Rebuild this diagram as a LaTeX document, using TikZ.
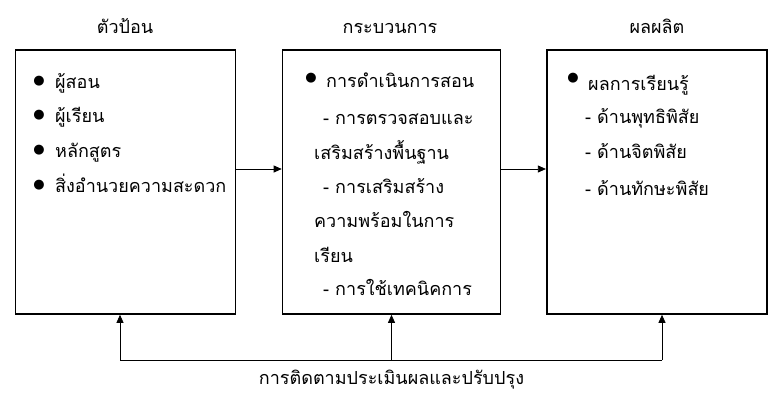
\documentclass[tikz,border=0pt]{standalone}
\usepackage{fontspec}
\newfontfamily\thaifont[Script=Thai]{Loma}
\newfontfamily\symfont{DejaVu Sans}
\usetikzlibrary{arrows.meta}

\begin{document}
\begin{tikzpicture}[
  x=1pt, y=-1pt,
  box/.style={rectangle, draw, line width=1.6pt, minimum height=264pt,
    inner sep=0pt},
  title/.style={font=\thaifont\fontsize{18}{18}\selectfont, anchor=base,
    inner sep=0pt},
  item/.style={font=\thaifont\fontsize{18}{18}\selectfont, anchor=base west,
    inner sep=0pt},
  dot/.style={font=\symfont\fontsize{13}{13}\selectfont, inner sep=0pt},
  flow/.style={-{Triangle[length=8pt,width=7pt]}, line width=0.8pt},
]

% Page frame
\useasboundingbox (0,0) rectangle (782,410);

% Boxes
\node[box, minimum width=220pt] (inbox) at (125.5,182) {};
\node[box, minimum width=218pt] (procbox) at (391.5,182) {};
\node[box, minimum width=220pt] (outbox) at (656.7,182) {};

% Box titles
\node[title] (intitle) at (125,33) {ตัวป้อน};
\node[title] (proctitle) at (390,33) {กระบวนการ};
\node[title] (outtitle) at (657,33) {ผลผลิต};

% Input items
\node[dot] (indot1) at (39,81) {●};
\node[item] (in1) at (55,88) {ผู้สอน};
\node[dot] (indot2) at (39,115) {●};
\node[item] (in2) at (55,122) {ผู้เรียน};
\node[dot] (indot3) at (39,150) {●};
\node[item] (in3) at (55,157) {หลักสูตร};
\node[dot] (indot4) at (39,185) {●};
\node[item] (in4) at (55,192) {สิ่งอำนวยความสะดวก};

% Process items
\node[dot] (prdot) at (311,78) {●};
\node[item] (pr1) at (326,87) {การดำเนินการสอน};
\node[item] (pr2) at (323,124) {- การตรวจสอบและ};
\node[item] (pr3) at (314,159) {เสริมสร้างพื้นฐาน};
\node[item] (pr4) at (323,193) {- การเสริมสร้าง};
\node[item] (pr5) at (314,227) {ความพร้อมในการ};
\node[item] (pr6) at (314,262) {เรียน};
\node[item] (pr7) at (323,295) {- การใช้เทคนิคการ};

% Output items
\node[dot] (outdot) at (573,78) {●};
\node[item] (out1) at (588,90) {ผลการเรียนรู้};
\node[item] (out2) at (585,123) {- ด้านพุทธิพิสัย};
\node[item] (out3) at (585,158) {- ด้านจิตพิสัย};
\node[item] (out4) at (585,195) {- ด้านทักษะพิสัย};

% Main flow
\draw[flow] ([yshift=13pt]inbox.east) -- ([yshift=13pt]procbox.west);
\draw[flow] ([yshift=13pt]procbox.east) -- ([yshift=13pt]outbox.west);

% Feedback loop
\coordinate (fbleft) at (120,360);
\coordinate (fbmid) at (391.5,360);
\coordinate (fbright) at (662,360);
\draw[line width=0.8pt] (fbleft) -- (fbright);
\draw[flow] (fbleft) -- (fbleft |- inbox.south);
\draw[flow] (fbmid) -- (fbmid |- procbox.south);
\draw[flow] (fbright) -- (fbright |- outbox.south);
\node[title] (fblabel) at (391.5,384) {การติดตามประเมินผลและปรับปรุง};

\end{tikzpicture}
\end{document}
